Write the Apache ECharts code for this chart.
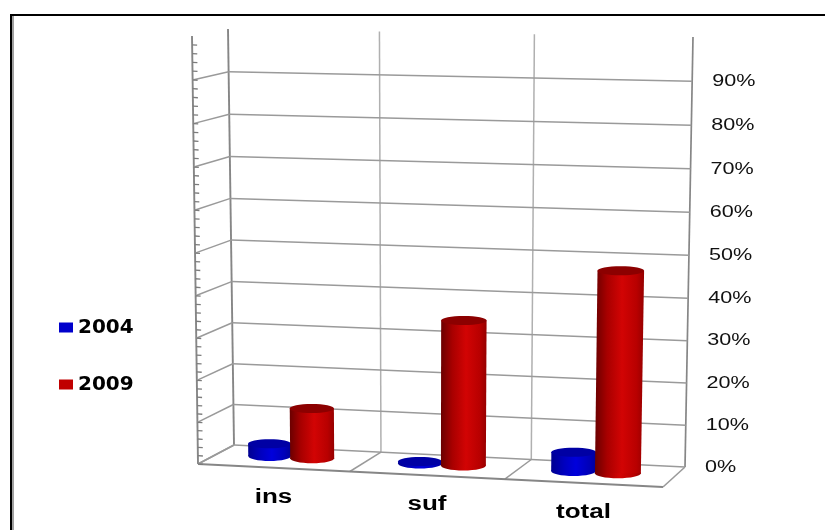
<!DOCTYPE html>
<html>
<head>
<meta charset="utf-8">
<style>html,body{margin:0;padding:0;background:#fff}#chart{width:825px;height:530px}</style>
<script src="https://cdn.jsdelivr.net/npm/echarts@6/dist/echarts.min.js"></script>
</head>
<body>
<div id="chart"></div>
<script>
// Chart data
const categories = ['ins', 'suf', 'total'];
const values2004 = [3, 0.5, 4.5];
const values2009 = [12, 34.5, 47.5];
const tickValues = [0, 10, 20, 30, 40, 50, 60, 70, 80, 90];
const tickLabels = ['0%', '10%', '20%', '30%', '40%', '50%', '60%', '70%', '80%', '90%'];
const minorTickValues = [];
for (let t = 0; t < 100; t += 2) minorTickValues.push(t);

// Plot rectangle of the underlying cartesian grid
const GRID = { left: 234, right: 685, top: 37, bottom: 467 };

// Maps the unit square onto a four-cornered plane in perspective
function planeMapper(q) {
  const [p0, p1, p2, p3] = q;
  const dx1 = p1[0] - p2[0], dx2 = p3[0] - p2[0], sx = p0[0] - p1[0] + p2[0] - p3[0];
  const dy1 = p1[1] - p2[1], dy2 = p3[1] - p2[1], sy = p0[1] - p1[1] + p2[1] - p3[1];
  const det = dx1 * dy2 - dx2 * dy1;
  const g = (sx * dy2 - dx2 * sy) / det, h = (dx1 * sy - sx * dy1) / det;
  const a = p1[0] - p0[0] + g * p1[0], b = p3[0] - p0[0] + h * p3[0];
  const d = p1[1] - p0[1] + g * p1[1], e = p3[1] - p0[1] + h * p3[1];
  return (u, v) => {
    const w = g * u + h * v + 1;
    return [(a * u + b * v + p0[0]) / w, (d * u + e * v + p0[1]) / w];
  };
}
const backPlane = planeMapper([[234, 445], [685, 467], [693, 37], [228, 29]]);
const frontPlane = planeMapper([[198, 464], [663, 487], [671, 46], [192, 36]]);

// Box position: u along categories, v up the value axis, depth from back (0) to front (1)
function project(u, v, depth) {
  const b = backPlane(u, v), f = frontPlane(u, v);
  return [b[0] + (f[0] - b[0]) * depth, b[1] + (f[1] - b[1]) * depth];
}
// Converts a pixel from the flat cartesian grid into box fractions
function toBox(pt) {
  return [(pt[0] - GRID.left) / (GRID.right - GRID.left), (GRID.bottom - pt[1]) / (GRID.bottom - GRID.top)];
}
function seg(a, b, stroke, width) {
  return { type: 'line', shape: { x1: a[0], y1: a[1], x2: b[0], y2: b[1] }, style: { stroke, lineWidth: width, fill: null } };
}

const GRID_GREY = '#9a9a9a', EDGE_GREY = '#868686', DIVIDER_GREY = '#b0b0b0';

// Walls and floor outline
function renderFrame() {
  const c = [];
  [1 / 3, 2 / 3].forEach(u => {
    c.push(seg(project(u, 0, 0), project(u, 1, 0), DIVIDER_GREY, 1.5));
    c.push(seg(project(u, 0, 0), project(u, 0, 1), GRID_GREY, 1.5));
  });
  c.push(seg(project(0, 0, 0), project(0, 1, 0), EDGE_GREY, 1.9));
  c.push(seg(project(0, 0, 1), project(0, 1, 1), EDGE_GREY, 1.9));
  c.push(seg(project(1, 0, 0), project(1, 1, 0), EDGE_GREY, 1.7));
  c.push(seg(project(0, 0, 1), project(1, 0, 1), EDGE_GREY, 1.9));
  c.push(seg(project(0, 0, 0), project(0, 0, 1), GRID_GREY, 1.6));
  c.push(seg(project(1, 0, 0), project(1, 0, 1), GRID_GREY, 1.6));
  return { type: 'group', children: c };
}

// One major gridline across the back wall and down the side wall
function renderGridLine(params, api) {
  const v = toBox(api.coord([0, api.value(0)]))[1];
  return {
    type: 'group',
    children: [
      seg(project(0, v, 0), project(1, v, 0), GRID_GREY, 1.5),
      seg(project(0, v, 0), project(0, v, 1), GRID_GREY, 1.5)
    ]
  };
}

// Small tick on the front-left upright
function renderMinorTick(params, api) {
  const v = toBox(api.coord([0, api.value(0)]))[1];
  const p = project(0, v, 1);
  return seg(p, [p[0] + 5, p[1] + 0.3], '#7c7c7c', 1.3);
}

// Percent label beyond the right wall
function renderTickLabel(params, api) {
  const v = toBox(api.coord([0, api.value(0)]))[1];
  const p = project(1, v, 0);
  return {
    type: 'text', x: p[0] + 20, y: p[1], scaleX: 1.27,
    style: {
      text: tickLabels[params.dataIndex], fill: '#111', fontFamily: 'Liberation Sans, Arial',
      fontSize: 17, textAlign: 'left', textVerticalAlign: 'middle'
    }
  };
}

// Category name under the front floor edge
function renderCategoryLabel(params, api) {
  const u = toBox(api.coord([api.value(0), 0]))[0];
  const p = project(u, 0, 1);
  return {
    type: 'text', x: p[0], y: p[1] + 29.5, scaleX: 1.3,
    style: {
      text: categories[params.dataIndex], fill: '#000', fontFamily: 'Liberation Sans, Arial',
      fontWeight: 'bold', fontSize: 20, textAlign: 'center', textVerticalAlign: 'middle'
    }
  };
}

// Upright cylinder seated on the floor of the box
function cylinderRenderer(offset, radius, sideStops, capColor) {
  const side = { type: 'linear', x: 0, y: 0, x2: 1, y2: 0, colorStops: sideStops };
  const DEPTH = 0.45, BASE_RY = 5, CAP_RY = 4.5;
  return function (params, api) {
    const box = toBox(api.coord([api.value(0), api.value(1)]));
    const u = box[0] + offset, v = box[1];
    const bl = project(u - radius, 0, DEPTH), br = project(u + radius, 0, DEPTH);
    const tl = project(u - radius, v, DEPTH), tr = project(u + radius, v, DEPTH);
    const bc = project(u, 0, DEPTH), tc = project(u, v, DEPTH);
    return {
      type: 'group',
      children: [
        { type: 'ellipse', shape: { cx: bc[0], cy: bc[1], rx: (br[0] - bl[0]) / 2, ry: BASE_RY }, style: { fill: side } },
        { type: 'polygon', shape: { points: [[tl[0], tc[1]], [tr[0], tc[1]], [br[0], bc[1]], [bl[0], bc[1]]] }, style: { fill: side } },
        { type: 'ellipse', shape: { cx: tc[0], cy: tc[1], rx: (tr[0] - tl[0]) / 2, ry: CAP_RY }, style: { fill: capColor } }
      ]
    };
  };
}

const redStops = [
  { offset: 0, color: '#6a0000' }, { offset: 0.25, color: '#a80000' },
  { offset: 0.55, color: '#d20404' }, { offset: 0.85, color: '#b80000' }, { offset: 1, color: '#960000' }
];
const blueStops = [
  { offset: 0, color: '#000090' }, { offset: 0.3, color: '#0000c0' },
  { offset: 0.55, color: '#0000dc' }, { offset: 0.85, color: '#0000b8' }, { offset: 1, color: '#000098' }
];

const chart = echarts.init(document.getElementById('chart'), null, { renderer: 'canvas' });
chart.setOption({
  animation: false,
  backgroundColor: '#fff',
  grid: { left: GRID.left, top: GRID.top, width: GRID.right - GRID.left, height: GRID.bottom - GRID.top },
  xAxis: { type: 'category', data: categories, show: false },
  yAxis: { type: 'value', min: 0, max: 100, interval: 10, show: false },
  legend: {
    orient: 'vertical', left: 54, top: 310, itemWidth: 14, itemHeight: 10, itemGap: 32,
    icon: 'rect', data: ['2004', '2009'], selectedMode: false,
    textStyle: { fontFamily: 'DejaVu Sans', fontWeight: 'bold', fontSize: 20, color: '#000', lineHeight: 22, padding: [3, 0, 0, 0] }
  },
  graphic: [
    { type: 'rect', shape: { x: 12, y: 16, width: 2, height: 514 }, style: { fill: '#a0a0a0' } },
    { type: 'rect', shape: { x: 10, y: 14, width: 815, height: 2 }, style: { fill: '#000' } },
    { type: 'rect', shape: { x: 10, y: 14, width: 2, height: 516 }, style: { fill: '#000' } }
  ],
  series: [
    { type: 'custom', silent: true, z: 1, data: [0], renderItem: renderFrame },
    { type: 'custom', silent: true, z: 1, data: tickValues.map(t => [t]), encode: { y: 0 }, renderItem: renderGridLine },
    { type: 'custom', silent: true, z: 1, data: minorTickValues.map(t => [t]), encode: { y: 0 }, renderItem: renderMinorTick },
    { type: 'custom', silent: true, z: 2, data: tickValues.map(t => [t]), encode: { y: 0 }, renderItem: renderTickLabel },
    { type: 'custom', silent: true, z: 2, data: categories.map((c, i) => [i]), encode: { x: 0 }, renderItem: renderCategoryLabel },
    {
      name: '2004', type: 'custom', silent: true, z: 3, itemStyle: { color: '#0000cc' },
      data: values2004.map((v, i) => [i, v]), encode: { x: 0, y: 1 },
      renderItem: cylinderRenderer(-0.050, 0.048, blueStops, '#0000a4')
    },
    {
      name: '2009', type: 'custom', silent: true, z: 4, itemStyle: { color: '#c00000' },
      data: values2009.map((v, i) => [i, v]), encode: { x: 0, y: 1 },
      renderItem: cylinderRenderer(0.045, 0.049, redStops, '#8c0000')
    }
  ]
});
</script>
</body>
</html>
